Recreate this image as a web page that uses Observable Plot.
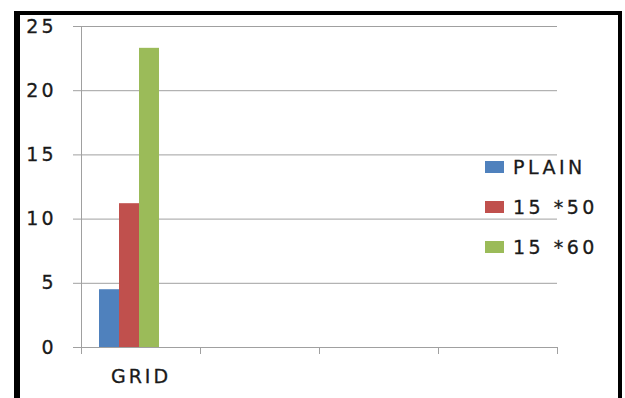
<!DOCTYPE html>
<html>
<head>
<meta charset="utf-8">
<script src="https://cdn.jsdelivr.net/npm/d3@7"></script>
<script src="https://cdn.jsdelivr.net/npm/@observablehq/plot@0.6"></script>
<style>
  html, body { margin: 0; padding: 0; background: #fff; }
  #wrap { position: relative; width: 625px; height: 398px; overflow: hidden; background: #fff; }
  #border { position: absolute; left: 14px; top: 11px; width: 598px; height: 420px;
            border-left: 6px solid #000; border-top: 4px solid #000; border-right: 4px solid #000; box-sizing: content-box; pointer-events: none; }
  #legend { position: absolute; left: 485px; top: 155px; font-family: "DejaVu Sans", sans-serif; font-size: 19px; letter-spacing: 3.5px; color: #1a1a1a; -webkit-text-stroke: 0.3px #1a1a1a; }
  .item { display: flex; align-items: center; height: 24px; margin-bottom: 16px; }
  .sw { width: 19px; height: 12px; margin-right: 9px; }
  svg { position: absolute; left: 0; top: 0; }
  svg text { stroke: #1a1a1a; stroke-width: 0.3px; }
</style>
</head>
<body>
<div id="wrap"></div>
<script>
const categories = ["GRID", " ", "  ", "   "];
const series = ["PLAIN", "15 *50", "15 *60"];
const plainValues = [4.5, null, null, null];
const v1550Values = [11.2, null, null, null];
const v1560Values = [23.3, null, null, null];
const colors = ["#4F81BD", "#C0504D", "#9BBB59"];
const yTicks = [0, 5, 10, 15, 20, 25];

const seriesValues = [plainValues, v1550Values, v1560Values];
const data = [];
categories.forEach((c, j) => series.forEach((s, i) => data.push({category: c, series: s, value: seriesValues[i][j]})));

const W = 625, H = 398, mt = 26, mb = 51, ml = 80, mr = 67;
const plotH = H - mt - mb;
const lineColor = "#a0a0a0";

const chart = Plot.plot({
  width: W, height: H,
  marginLeft: ml, marginRight: mr, marginTop: mt, marginBottom: mb,
  style: {fontFamily: "DejaVu Sans, sans-serif", fontSize: "19px", color: "#1a1a1a", background: "transparent", letterSpacing: "3px"},
  fx: {domain: categories, padding: 0, axis: null, label: null},
  x: {domain: series, paddingInner: 0, paddingOuter: 1.345, align: 0.3, axis: null, label: null},
  y: {domain: [0, 25], axis: null, label: null},
  color: {domain: series, range: colors},
  marks: [
    Plot.gridY(yTicks, {stroke: lineColor, strokeOpacity: 1}),
    Plot.barY(data, {fx: "category", x: "series", y: "value", fill: "series"}),
    Plot.ruleY([0], {stroke: lineColor}),
    Plot.frame({anchor: "left", stroke: lineColor, insetBottom: -6, facetAnchor: "left"}),
    Plot.frame({anchor: "left", stroke: lineColor, insetTop: plotH, insetBottom: -6}),
    Plot.frame({anchor: "right", stroke: lineColor, insetTop: plotH, insetBottom: -6, facetAnchor: "right"}),
    Plot.axisY(yTicks, {anchor: "left", tickSize: 8, tickPadding: 17, stroke: lineColor, fill: "#1a1a1a", fontSize: 19, label: null}),
    Plot.axisFx({anchor: "bottom", tickSize: 0, tickPadding: 22, fill: "#1a1a1a", fontSize: 19, label: null})
  ]
});

const wrap = document.getElementById("wrap");
wrap.appendChild(chart);

const legend = document.createElement("div");
legend.id = "legend";
series.forEach((s, i) => {
  const item = document.createElement("div");
  item.className = "item";
  const sw = document.createElement("span");
  sw.className = "sw";
  sw.style.background = colors[i];
  const t = document.createElement("span");
  t.textContent = s;
  item.appendChild(sw);
  item.appendChild(t);
  legend.appendChild(item);
});
wrap.appendChild(legend);

const border = document.createElement("div");
border.id = "border";
wrap.appendChild(border);
</script>
</body>
</html>
